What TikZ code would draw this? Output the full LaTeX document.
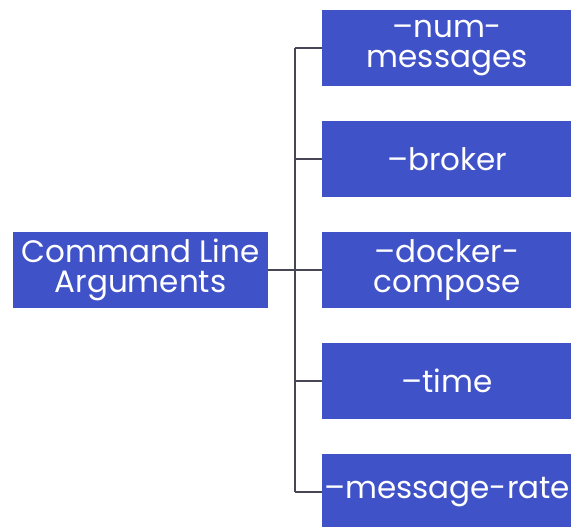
\documentclass[tikz,border=0pt]{standalone}
\usepackage{fontspec}
\setmainfont{Poppins}
\definecolor{boxblue}{RGB}{64,82,200}
\definecolor{linegray}{RGB}{70,70,85}
\begin{document}
\begin{tikzpicture}[x=1pt,y=1pt,
  argbox/.style={fill=boxblue, text=white, inner sep=0pt, minimum height=76pt, align=center, font=\fontsize{31}{30}\selectfont},
  conn/.style={draw=linegray, line width=1.6pt}]
\useasboundingbox (0,0) rectangle (571,527);
\clip (0,0) rectangle (571,527);
\fill[white] (0,0) rectangle (571,527);
\node[argbox, minimum width=255pt] (root) at (140.5,257) {Command Line\\Arguments};
\node[argbox, minimum width=250pt, anchor=west] (b1) at (322,479) {--num-\\messages};
\node[argbox, minimum width=250pt, anchor=west] (b2) at (322,368) {--broker};
\node[argbox, minimum width=250pt, anchor=west] (b3) at (322,257) {--docker-\\compose};
\node[argbox, minimum width=250pt, anchor=west] (b4) at (322,146) {--time};
\node[argbox, minimum width=250pt, anchor=west] (b5) at (322,35) {--message-rate};
\draw[conn] (root.east) -- ++(27,0) coordinate (j);
\draw[conn] (j |- b1.west) -- (j |- b5.west);
\foreach \b in {b1,b2,b3,b4,b5} \draw[conn] (j |- \b.west) -- (\b.west);
\end{tikzpicture}
\end{document}
